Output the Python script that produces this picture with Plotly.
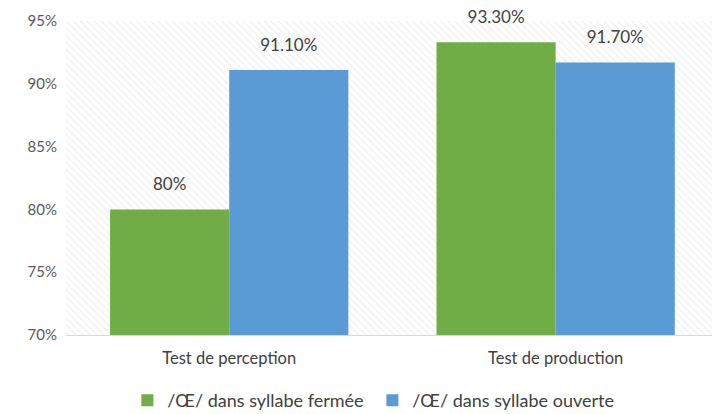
import plotly.graph_objects as go

categories = ["Test de perception", "Test de production"]
ferme_vals = [80.0, 93.3]
ouvert_vals = [91.1, 91.7]
ferme_labels = ["80%", "93.30%"]
ouvert_labels = ["91.10%", "91.70%"]
y_ticks = [70, 75, 80, 85, 90, 95]
y_tick_labels = ["70%", "75%", "80%", "85%", "90%", "95%"]

FONT = "Lato"
LABEL_TPL = "<span style='font-size:17px'>%{text}</span><br> "

fig = go.Figure()

# hatched plot background (drawn on base axes, behind data)
fig.add_trace(go.Bar(
    x=[0.5], y=[1], width=[1], xaxis="x", yaxis="y",
    marker=dict(color="white", line=dict(width=0),
                pattern=dict(shape="\\", fgcolor="#d9d9d9", bgcolor="white", size=5, solidity=0.2)),
    showlegend=False, hoverinfo="skip",
))

fig.add_trace(go.Bar(
    name="/Œ/ dans syllabe fermée", x=categories, y=ferme_vals,
    text=ferme_labels, texttemplate=LABEL_TPL, textposition="outside", cliponaxis=False,
    textfont=dict(color="#404040", size=11, family=FONT),
    marker=dict(color="#70AD47", line=dict(width=0)),
    xaxis="x2", yaxis="y2",
))
fig.add_trace(go.Bar(
    name="/Œ/ dans syllabe ouverte", x=categories, y=ouvert_vals,
    text=ouvert_labels, texttemplate=LABEL_TPL, textposition="outside", cliponaxis=False,
    textfont=dict(color="#404040", size=11, family=FONT),
    marker=dict(color="#5B9BD5", line=dict(width=0)),
    xaxis="x2", yaxis="y2",
))

fig.update_layout(
    width=712, height=414,
    margin=dict(l=65.5, r=0, t=21, b=79, autoexpand=False),
    paper_bgcolor="white", plot_bgcolor="white",
    font=dict(family=FONT, size=16, color="#595959"),
    barmode="group", bargap=0.27, bargroupgap=0,
    xaxis=dict(range=[0, 1], visible=False, fixedrange=True),
    yaxis=dict(range=[0, 1], visible=False, fixedrange=True),
    xaxis2=dict(overlaying="x", showgrid=False, showline=True, linecolor="#d9d9d9",
                range=[-0.5, 1.479],
                ticks="", tickfont=dict(size=16.5, color="#404040"), ticklabelstandoff=8),
    yaxis2=dict(overlaying="y", range=[70, 95], tickvals=y_ticks, ticktext=y_tick_labels,
                showgrid=False, zeroline=False, showline=False, ticks="",
                tickfont=dict(size=15, color="#595959"), ticklabelstandoff=8),
    legend=dict(orientation="h", x=0.095, xanchor="left", y=-0.15, yanchor="top",
                entrywidth=200, entrywidthmode="pixels",
                font=dict(size=18, color="#404040"), traceorder="normal"),
)

fig.write_html("out.html", config={"displayModeBar": False},
               post_script="document.body.style.margin='0';")
